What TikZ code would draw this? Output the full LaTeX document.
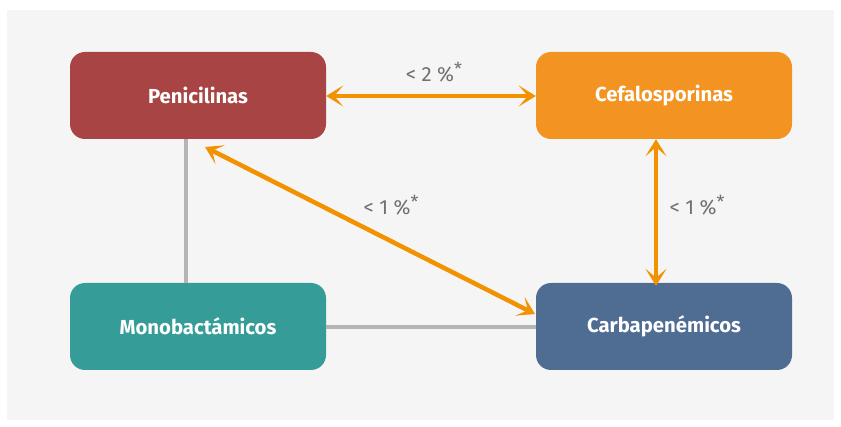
\documentclass[tikz,border=0pt]{standalone}
\usepackage{fontspec}
\setmainfont{Fira Sans}
\usetikzlibrary{arrows.meta}
\definecolor{bg}{HTML}{F5F5F5}
\definecolor{peni}{HTML}{A84443}
\definecolor{cefa}{HTML}{F39422}
\definecolor{mono}{HTML}{359C98}
\definecolor{carba}{HTML}{4F6C93}
\definecolor{arr}{HTML}{F39200}
\definecolor{grayline}{HTML}{B4B4B4}
\definecolor{lbl}{HTML}{707070}
\tikzset{
  box/.style={rounded corners=15pt, minimum width=256pt, minimum height=87pt, inner sep=0pt, text=white, font=\fontsize{20.3}{24}\selectfont\bfseries},
  link/.style={draw=grayline, line width=4pt},
  rel/.style={draw=arr, line width=4.5pt, {Stealth[length=17pt,width=21pt,inset=9pt]}-{Stealth[length=17pt,width=21pt,inset=9pt]}},
  lab/.style={text=lbl, font=\fontsize{20.5}{24}\selectfont, inner sep=0pt}
}
\newcommand{\pct}[1]{<\ #1\ \%\raisebox{0.55ex}{\fontsize{18}{20}\selectfont *}}
\begin{document}
\begin{tikzpicture}[x=1pt,y=-1pt]
\useasboundingbox (0,0) rectangle (841,427);
\fill[bg] (7,10) rectangle (834,420);
\node[box, fill=peni] (pen) at (198,95.5) {Penicilinas};
\node[box, fill=cefa] (cef) at (664,95.5) {Cefalosporinas};
\node[box, fill=mono] (mon) at (198,326.5) {Monobactámicos};
\node[box, fill=carba] (car) at (664,326.5) {Carbapenémicos};
\coordinate (d1) at (205,147);
\coordinate (d2) at (535,314);
\draw[link] (pen.south -| 185.5,0) -- (mon.north -| 185.5,0);
\draw[link] (mon.east |- 0,327) -- (car.west |- 0,327);
\draw[rel] (pen.east |- 0,96) -- (cef.west |- 0,96);
\draw[rel] (cef.south -| 656,0) -- ([yshift=-3pt]car.north -| 656,0);
\draw[rel] (d1) -- (d2);
\node[lab] (l1) at (434,72) {\pct{2}};
\node[lab] (l2) at (391,205) {\pct{1}};
\node[lab] (l3) at (697,205) {\pct{1}};
\end{tikzpicture}
\end{document}
